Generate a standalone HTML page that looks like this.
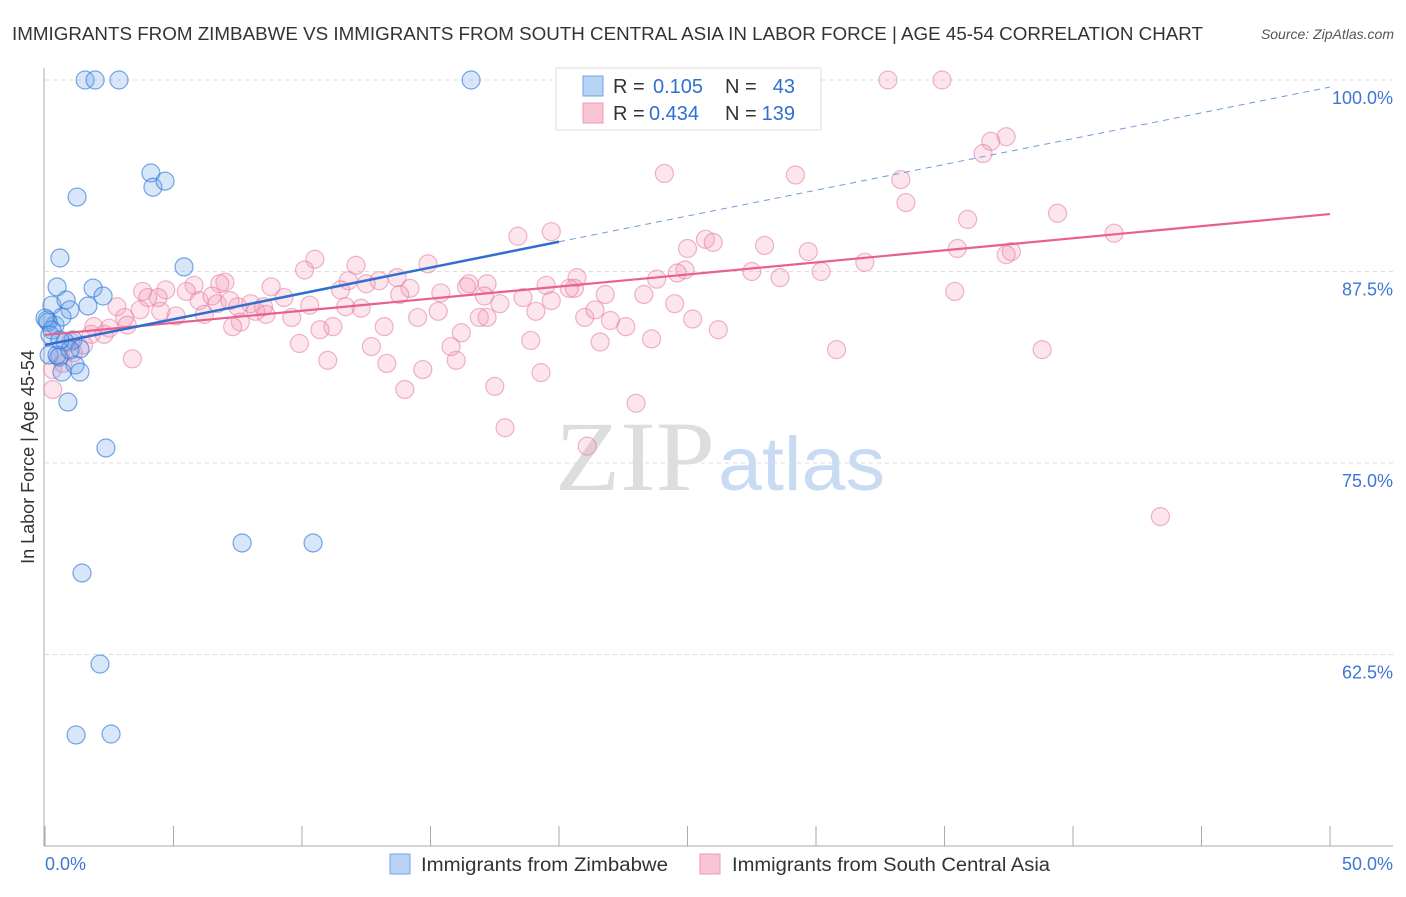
<!DOCTYPE html>
<html><head><meta charset="utf-8"><style>
body{margin:0;background:#fff;font-family:"Liberation Sans",sans-serif;}
svg text{font-family:"Liberation Sans",sans-serif;}
</style></head><body>
<svg width="1406" height="892" xmlns="http://www.w3.org/2000/svg">
<text x="12" y="40" font-size="18" fill="#333" textLength="1191" lengthAdjust="spacingAndGlyphs">IMMIGRANTS FROM ZIMBABWE VS IMMIGRANTS FROM SOUTH CENTRAL ASIA IN LABOR FORCE | AGE 45-54 CORRELATION CHART</text>
<text x="1394" y="39" font-size="14" fill="#555" text-anchor="end" font-style="italic">Source: ZipAtlas.com</text>
<text transform="translate(34,457) rotate(-90)" font-size="18" fill="#333" text-anchor="middle">In Labor Force | Age 45-54</text>
<g><text x="555" y="490" font-size="100" fill="#ddd" textLength="160" lengthAdjust="spacingAndGlyphs" style="font-family:'Liberation Serif',serif">ZIP</text><text x="718" y="490" font-size="76" fill="#c8dbf3" textLength="167" lengthAdjust="spacingAndGlyphs">atlas</text></g>
<g id="grid"></g><g id="axes"></g><g id="marks"></g>
<g>
<rect x="556" y="68" width="265" height="62" fill="#fff" stroke="#ddd"/>
<rect x="583" y="76" width="20" height="20" fill="#b9d3f5" stroke="#6fa3e6"/>
<rect x="583" y="103" width="20" height="20" fill="#f9c4d4" stroke="#ee9ab5"/>
<text x="613" y="93" font-size="20" fill="#333">R =</text>
<text x="653" y="93" font-size="20" fill="#2f6fd0">0.105</text>
<text x="725" y="93" font-size="20" fill="#333">N =</text>
<text x="795" y="93" font-size="20" fill="#2f6fd0" text-anchor="end">43</text>
<text x="613" y="120" font-size="20" fill="#333">R =</text>
<text x="649" y="120" font-size="20" fill="#2f6fd0">0.434</text>
<text x="725" y="120" font-size="20" fill="#333">N =</text>
<text x="795" y="120" font-size="20" fill="#2f6fd0" text-anchor="end">139</text>
</g>
<g>
<rect x="390" y="854" width="20" height="20" fill="#b9d3f5" stroke="#6fa3e6"/>
<text x="421" y="871" font-size="19" fill="#333" textLength="247" lengthAdjust="spacingAndGlyphs">Immigrants from Zimbabwe</text>
<rect x="700" y="854" width="20" height="20" fill="#f9c4d4" stroke="#ee9ab5"/>
<text x="732" y="871" font-size="19" fill="#333" textLength="318" lengthAdjust="spacingAndGlyphs">Immigrants from South Central Asia</text>
</g>
</svg>
<script>
const blueX=[1.56,1.95,2.88,16.58,4.12,4.2,4.67,1.25,0.58,5.41,0.47,1.87,2.26,0.27,0.82,0.97,1.67,0.08,0.39,0.66,1.09,0.78,0.16,0.54,1.36,1.17,1.36,0.66,0.89,2.37,7.67,10.43,1.44,2.14,1.21,2.57,0.12,0.27,0.47,0.97,0,0.19,0.58];
const blueY=[100,100,100,100,93.93,93.0,93.4,92.36,88.38,87.8,86.49,86.42,85.9,85.3,85.64,85.0,85.25,84.33,84.0,84.53,83.03,82.9,82.05,81.92,82.44,81.4,80.94,80.94,78.98,75.98,69.78,69.78,67.82,61.88,57.25,57.31,84.2,83.68,82.05,82.38,84.46,83.36,83.03];
const pinkX=[29.5,32.8,34.9,37.4,36.8,36.5,24.1,29.2,33.3,33.5,39.4,35.9,19.7,18.4,41.6,25.7,26.0,28.0,25.0,29.7,35.5,37.6,37.4,14.9,10.5,10.1,12.1,31.9,27.5,28.6,30.2,24.9,24.6,23.8,20.7,19.5,20.6,20.4,17.2,16.5,16.4,17.1,15.4,14.2,13.7,13.0,12.5,11.8,11.5,8.8,7.0,6.8,5.8,4.7,4.4,3.8,4.0,5.5,6.0,6.5,6.7,7.5,8.0,9.3,8.5,8.2,10.3,11.7,12.3,13.8,15.3,17.7,18.6,19.7,19.1,21.0,21.4,21.8,23.3,24.5,25.2,22.0,22.6,26.2,35.4,17.2,14.5,13.2,11.2,10.7,9.6,8.6,7.6,7.3,6.2,5.1,4.5,3.7,2.8,3.1,3.2,2.5,1.9,1.8,2.3,1.5,1.1,0.6,0.3,0.3,0.7,1.0,3.4,9.9,11.0,12.7,13.3,14.7,14.0,16.0,15.8,16.2,18.9,19.3,17.5,17.9,21.6,23.6,21.1,23.0,30.8,38.8,43.4,16.9,7.2];
const pinkY=[100,100,100,96.3,96.0,95.2,93.9,93.8,93.5,92.0,91.3,90.9,90.1,89.8,90.0,89.6,89.4,89.2,89.0,88.8,89.0,88.8,88.6,88.0,88.3,87.6,87.9,88.1,87.5,87.1,87.5,87.6,87.4,87.0,87.1,86.6,86.4,86.4,86.7,86.7,86.5,85.9,86.1,86.4,87.1,86.9,86.7,86.9,86.3,86.5,86.8,86.7,86.6,86.3,85.8,86.2,85.8,86.2,85.6,85.9,85.4,85.2,85.4,85.8,85.2,84.9,85.3,85.2,85.1,86.0,84.9,85.4,85.8,85.6,84.9,84.5,85.0,86.0,86.0,85.4,84.4,84.3,83.9,83.7,86.2,84.5,84.5,83.9,83.9,83.7,84.5,84.7,84.2,83.9,84.7,84.6,84.9,85.0,85.2,84.5,84.0,83.8,83.9,83.4,83.4,82.7,82.2,82.0,81.1,79.8,81.5,82.9,81.8,82.8,81.7,82.6,81.5,81.1,79.8,81.7,82.6,83.5,83.0,80.9,80.0,77.3,82.9,83.1,76.1,78.9,82.4,82.4,71.5,84.5,85.6];
const yTicks=[100,87.5,75,62.5];
const yTickLabels=["100.0%","87.5%","75.0%","62.5%"];
const blueTrend=[[0,82.7],[20,89.44],[50,99.54]];
const pinkTrend=[[0,83.36],[50,91.25]];
const X=v=>45+v*25.7, Y=v=>80+(100-v)*15.32;
const NS="http://www.w3.org/2000/svg";
function mk(tag,attrs,parent){const e=document.createElementNS(NS,tag);for(const k in attrs)e.setAttribute(k,attrs[k]);document.getElementById(parent).appendChild(e);return e;}
yTicks.forEach((t,i)=>{
 const g=mk('line',{x1:45,x2:1393,y1:Y(t),y2:Y(t),stroke:'#ddd','stroke-dasharray':'4,4'},'grid');
 
 
 const l=mk('text',{x:1393,y:Y(t)+24,'font-size':18,fill:'#3f76d4','text-anchor':'end'},'grid');
 l.textContent=yTickLabels[i];
 
 
});
const ax=mk('line',{x1:44,x2:44,y1:68,y2:846,stroke:'#aaa'},'axes');


const bx=mk('line',{x1:44,x2:1393,y1:846,y2:846,stroke:'#aaa'},'axes');


for(let i=0;i<=10;i++){const t=mk('line',{x1:X(i*5),x2:X(i*5),y1:826,y2:846,stroke:'#aaa'},'axes');
 
 }
const xl0=mk('text',{x:45,y:870,'font-size':18,fill:'#3f76d4'},'axes');xl0.textContent='0.0%';


const xl1=mk('text',{x:1393,y:870,'font-size':18,fill:'#3f76d4','text-anchor':'end'},'axes');xl1.textContent='50.0%';


pinkX.forEach((v,i)=>{const c=mk('circle',{cx:X(v),cy:Y(pinkY[i]),r:9,fill:'rgba(244,150,180,0.25)',stroke:'rgba(228,120,160,0.55)','stroke-width':1.2},'marks');
 
 });
blueX.forEach((v,i)=>{const c=mk('circle',{cx:X(v),cy:Y(blueY[i]),r:9,fill:'rgba(110,165,235,0.28)',stroke:'rgba(50,120,215,0.65)','stroke-width':1.2},'marks');
 
 });
const pt=mk('line',{x1:X(pinkTrend[0][0]),y1:Y(pinkTrend[0][1]),x2:X(pinkTrend[1][0]),y2:Y(pinkTrend[1][1]),stroke:'#e8608e','stroke-width':2.2},'marks');


const bt=mk('line',{x1:X(blueTrend[0][0]),y1:Y(blueTrend[0][1]),x2:X(blueTrend[1][0]),y2:Y(blueTrend[1][1]),stroke:'#2f6fd0','stroke-width':2.5},'marks');


const bd=mk('line',{x1:X(blueTrend[1][0]),y1:Y(blueTrend[1][1]),x2:X(blueTrend[2][0]),y2:Y(blueTrend[2][1]),stroke:'#6b9be0','stroke-width':1,'stroke-dasharray':'6,5'},'marks');


</script>
</body></html>
